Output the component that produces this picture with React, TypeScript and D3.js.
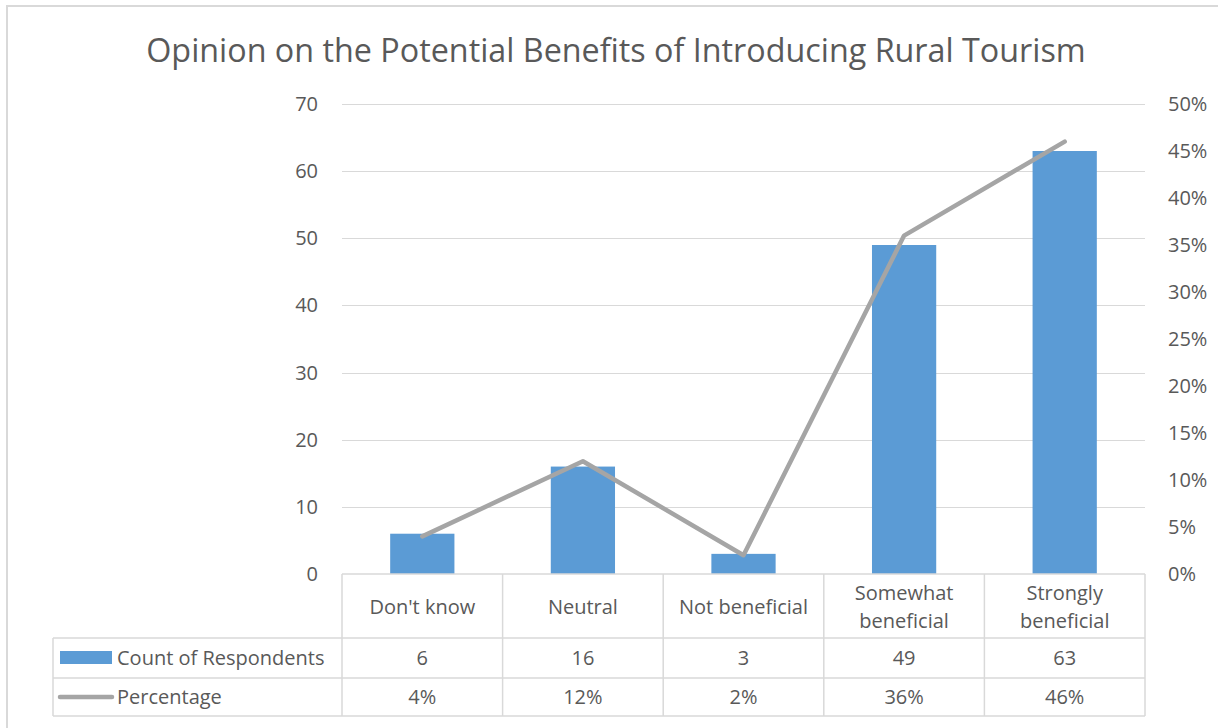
import * as d3 from "d3";
import React from "react";

const categories = [
  ["Don't know"],
  ["Neutral"],
  ["Not beneficial"],
  ["Somewhat", "beneficial"],
  ["Strongly", "beneficial"],
];
const counts = [6, 16, 3, 49, 63];
const percentages = [0.04, 0.12, 0.02, 0.36, 0.46];
const countTicks = [0, 10, 20, 30, 40, 50, 60, 70];
const pctTicks = [0, 0.05, 0.1, 0.15, 0.2, 0.25, 0.3, 0.35, 0.4, 0.45, 0.5];
const seriesNames = ["Count of Respondents", "Percentage"];

const W = 1218;
const H = 728;
const FONT = "Open Sans, sans-serif";
const FS = 20;
const TEXT = "#595959";
const GRID = "#D9D9D9";
const BLUE = "#5B9BD5";
const GREY = "#A5A5A5";

const plot = { left: 342, right: 1145, top: 104, bottom: 574 };
const table = { left: 53, row1: 638, row2: 678, bottom: 716 };

const App: React.FC = () => {
  const keys = categories.map((c) => c.join(" "));
  const x = d3
    .scaleBand<string>()
    .domain(keys)
    .range([plot.left, plot.right])
    .padding(0);
  const y = d3.scaleLinear().domain([0, 70]).range([plot.bottom, plot.top]);
  const y2 = d3.scaleLinear().domain([0, 0.5]).range([plot.bottom, plot.top]);
  const barW = x.bandwidth() / 2.5;
  const cx = (k: string) => (x(k) ?? 0) + x.bandwidth() / 2;
  const fmtPct = d3.format(".0%");

  const line = d3
    .line<number>()
    .x((_, i) => cx(keys[i]))
    .y((d) => y2(d));

  const bounds = [...keys.map((k) => x(k) ?? 0), plot.right];

  return (
    <svg
      width={W}
      height={H}
      style={{ position: "absolute", left: 0, top: 0, background: "#fff" }}
      fontFamily={FONT}
    >
      <rect x={0} y={0} width={W} height={H} fill="#fff" />
      {/* chart frame, only top and left edges visible */}
      <path d={`M7,${H + 5}V6H${W + 5}`} fill="none" stroke={GRID} strokeWidth={2} />

      <text
        x={616}
        y={62}
        textAnchor="middle"
        fontSize={32.3}
        fill={TEXT}
      >
        Opinion on the Potential Benefits of Introducing Rural Tourism
      </text>

      {/* gridlines */}
      {countTicks.slice(1).map((t) => (
        <line
          key={t}
          x1={plot.left}
          x2={plot.right}
          y1={Math.round(y(t)) + 0.5}
          y2={Math.round(y(t)) + 0.5}
          stroke={GRID}
          strokeWidth={1}
        />
      ))}

      {/* left axis labels */}
      {countTicks.map((t) => (
        <text
          key={t}
          x={318}
          y={y(t)}
          dy="0.35em"
          textAnchor="end"
          fontSize={FS}
          fill={TEXT}
        >
          {t}
        </text>
      ))}

      {/* right axis labels */}
      {pctTicks.map((t) => (
        <text
          key={t}
          x={1168}
          y={y2(t)}
          dy="0.35em"
          textAnchor="start"
          fontSize={FS}
          fill={TEXT}
        >
          {fmtPct(t)}
        </text>
      ))}

      {/* bars */}
      {counts.map((v, i) => (
        <rect
          key={i}
          x={cx(keys[i]) - barW / 2}
          y={y(v)}
          width={barW}
          height={y(0) - y(v)}
          fill={BLUE}
        />
      ))}

      {/* percentage line */}
      <path
        d={line(percentages) ?? ""}
        fill="none"
        stroke={GREY}
        strokeWidth={4.5}
        strokeLinejoin="round"
        strokeLinecap="round"
      />

      {/* data table */}
      <g stroke={GRID} strokeWidth={1.5} fill="none">
        <line x1={plot.left} x2={plot.right} y1={plot.bottom} y2={plot.bottom} />
        <line x1={table.left} x2={plot.right} y1={table.row1} y2={table.row1} />
        <line x1={table.left} x2={plot.right} y1={table.row2} y2={table.row2} />
        <line x1={table.left} x2={plot.right} y1={table.bottom} y2={table.bottom} />
        <line x1={table.left} x2={table.left} y1={table.row1} y2={table.bottom} />
        {bounds.map((b, i) => (
          <line key={i} x1={b} x2={b} y1={plot.bottom} y2={table.bottom} />
        ))}
      </g>

      {/* category labels */}
      {categories.map((c, i) => (
        <text
          key={i}
          x={cx(keys[i])}
          textAnchor="middle"
          fontSize={FS}
          fill={TEXT}
        >
          {c.map((ln, j) => (
            <tspan
              key={j}
              x={cx(keys[i])}
              y={(c.length === 1 ? 607 : 593 + j * 28)}
              dy="0.35em"
            >
              {ln}
            </tspan>
          ))}
        </text>
      ))}

      {/* table values */}
      {counts.map((v, i) => (
        <text
          key={i}
          x={cx(keys[i])}
          y={658}
          dy="0.35em"
          textAnchor="middle"
          fontSize={FS}
          fill={TEXT}
        >
          {v}
        </text>
      ))}
      {percentages.map((v, i) => (
        <text
          key={i}
          x={cx(keys[i])}
          y={697}
          dy="0.35em"
          textAnchor="middle"
          fontSize={FS}
          fill={TEXT}
        >
          {fmtPct(v)}
        </text>
      ))}

      {/* legend keys in table */}
      <rect x={60} y={651} width={52} height={13} fill={BLUE} />
      <text x={117} y={658} dy="0.35em" fontSize={FS} fill={TEXT}>
        {seriesNames[0]}
      </text>
      <line
        x1={60}
        x2={112}
        y1={697}
        y2={697}
        stroke={GREY}
        strokeWidth={4.5}
        strokeLinecap="round"
      />
      <text x={117} y={697} dy="0.35em" fontSize={FS} fill={TEXT}>
        {seriesNames[1]}
      </text>
    </svg>
  );
};

export default App;
